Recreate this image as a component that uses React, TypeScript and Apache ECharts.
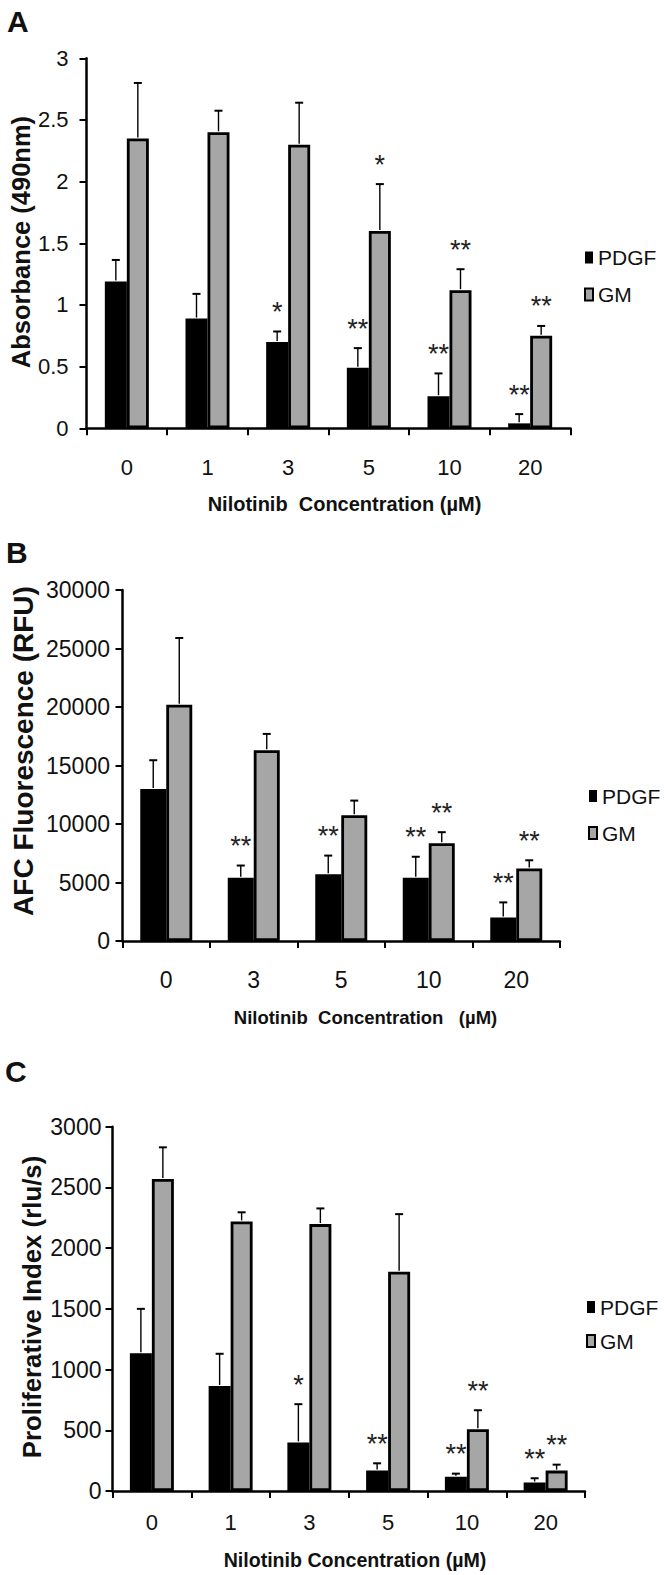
import React, { useEffect, useRef } from "react";
import * as echarts from "echarts";

// ---------- Data ----------
const catsA = ["0", "1", "3", "5", "10", "20"];
const pdgfA = [1.19, 0.89, 0.7, 0.49, 0.26, 0.04];
const pdgfErrA = [1.365, 1.09, 0.785, 0.65, 0.445, 0.115];
const gmA = [2.35, 2.4, 2.3, 1.6, 1.12, 0.75];
const gmErrA = [2.8, 2.575, 2.64, 1.98, 1.29, 0.83];
const sigPdgfA = ["", "", "*", "**", "**", "**"];
const sigGmA = ["", "", "", "*", "**", "**"];

const catsB = ["0", "3", "5", "10", "20"];
const pdgfB = [13000, 5400, 5700, 5400, 2000];
const pdgfErrB = [15450, 6450, 7300, 7200, 3300];
const gmB = [20200, 16300, 10750, 8350, 6200];
const gmErrB = [25900, 17700, 12000, 9300, 6900];
const sigPdgfB = ["", "**", "**", "**", "**"];
const sigGmB = ["", "", "", "**", "**"];

const catsC = ["0", "1", "3", "5", "10", "20"];
const pdgfC = [1135, 865, 400, 168, 118, 70];
const pdgfErrC = [1500, 1130, 715, 228, 143, 105];
const gmC = [2570, 2220, 2198, 1805, 508, 168];
const gmErrC = [2830, 2295, 2327, 2280, 665, 217];
const sigPdgfC = ["", "", "*", "**", "**", "**"];
const sigGmC = ["", "", "", "", "**", "**"];

const seriesNames = ["PDGF", "GM"];
const yTitles = ["Absorbance (490nm)", "AFC Fluorescence (RFU)", "Proliferative Index (rlu/s)"];
const xTitles = [
  "Nilotinib\u00a0\u00a0Concentration (µM)",
  "Nilotinib\u00a0\u00a0Concentration\u00a0\u00a0\u00a0(µM)",
  "Nilotinib Concentration (µM)",
];
const panelLetters = ["A", "B", "C"];

// ---------- Layout / style ----------
const FONT = "'Liberation Sans', Arial, Helvetica, sans-serif";
const NARROW = "'Liberation Sans Narrow', 'Arial Narrow', 'Liberation Sans', Arial, sans-serif";
const GM_COLOR = "#a6a6a6";
const INK = "#111";

const panels = [
  {
    cats: catsA, pdgf: pdgfA, pdgfErr: pdgfErrA, gm: gmA, gmErr: gmErrA, sigP: sigPdgfA, sigG: sigGmA,
    max: 3, interval: 0.5,
    grid: { left: 86.5, top: 58.3, width: 484, height: 370 },
    barWidth: 22, yFont: 22, xFont: 22, yMargin: 18, xMargin: 28,
    legend: { left: 584, top: 246.5, gap: 15 },
    letter: { x: 7, y: 21.5 },
    yTitle: { x: 21, y: 242, size: 25.5 },
    xTitle: { x: 344.5, y: 504, size: 20 },
  },
  {
    cats: catsB, pdgf: pdgfB, pdgfErr: pdgfErrB, gm: gmB, gmErr: gmErrB, sigP: sigPdgfB, sigG: sigGmB,
    max: 30000, interval: 5000,
    grid: { left: 122.5, top: 590, width: 437.5, height: 351 },
    barWidth: 26, yFont: 23, xFont: 23, yMargin: 12.5, xMargin: 27,
    legend: { left: 588, top: 785, gap: 15 },
    letter: { x: 6, y: 552 },
    yTitle: { x: 23, y: 751, size: 28 },
    xTitle: { x: 365.5, y: 1017, size: 18.5 },
  },
  {
    cats: catsC, pdgf: pdgfC, pdgfErr: pdgfErrC, gm: gmC, gmErr: gmErrC, sigP: sigPdgfC, sigG: sigGmC,
    max: 3000, interval: 500,
    grid: { left: 112.5, top: 1126.7, width: 472.5, height: 364.3 },
    barWidth: 22, yFont: 23, xFont: 22, yMargin: 11, xMargin: 20,
    legend: { left: 586, top: 1296, gap: 12 },
    letter: { x: 5, y: 1071 },
    yTitle: { x: 32, y: 1307, size: 25.8 },
    xTitle: { x: 355, y: 1560, size: 19.6 },
  },
];

function buildOption() {
  const axisLine = { show: true, lineStyle: { color: "#000", width: 2.5 } };
  const axisTick = { show: true, length: 7, lineStyle: { color: "#000", width: 2 } };

  const series: any[] = [];
  panels.forEach((p, i) => {
    series.push({
      type: "bar", name: seriesNames[0], xAxisIndex: i, yAxisIndex: i, data: p.pdgf,
      barWidth: p.barWidth, barGap: "0%",
      itemStyle: { color: "#000", borderColor: "#000", borderWidth: 2.5 }, z: 2,
    });
    series.push({
      type: "bar", name: seriesNames[1], xAxisIndex: i, yAxisIndex: i, data: p.gm,
      barWidth: p.barWidth, barGap: "0%",
      itemStyle: { color: GM_COLOR, borderColor: "#000", borderWidth: 2.8 }, z: 2,
    });
    series.push({
      type: "custom", xAxisIndex: i, yAxisIndex: i, silent: true, z: 5,
      data: p.cats.map((_, j) => [j, 0]),
      renderItem: (_params: any, api: any) => {
        const j = api.value(0);
        const items = [
          { v: p.pdgf[j], e: p.pdgfErr[j], s: p.sigP[j], dx: -p.barWidth / 2 },
          { v: p.gm[j], e: p.gmErr[j], s: p.sigG[j], dx: p.barWidth / 2 },
        ];
        const children: any[] = [];
        items.forEach((g) => {
          const base = api.coord([j, g.v]);
          const top = api.coord([j, g.e]);
          const x = base[0] + g.dx;
          children.push({ type: "line", shape: { x1: x, y1: base[1] - 1, x2: x, y2: top[1] }, style: { stroke: "#000", lineWidth: 1.4 } });
          children.push({ type: "line", shape: { x1: x - 4, y1: top[1], x2: x + 4, y2: top[1] }, style: { stroke: "#000", lineWidth: 2 } });
          if (g.s) {
            children.push({
              type: "text", x, y: top[1] - 19.5,
              style: { text: g.s, fontSize: 27, fontFamily: FONT, fill: "#222", align: "center", verticalAlign: "middle" },
            });
          }
        });
        return { type: "group", children };
      },
    });
  });

  const graphic: any[] = [];
  panels.forEach((p, i) => {
    graphic.push({
      type: "text", x: p.letter.x, y: p.letter.y,
      style: { text: panelLetters[i], fontSize: 30, fontWeight: "bold", fontFamily: FONT, fill: INK, align: "left", verticalAlign: "middle" },
    });
    graphic.push({
      type: "text", x: p.yTitle.x, y: p.yTitle.y, rotation: Math.PI / 2,
      style: { text: yTitles[i], fontSize: p.yTitle.size, fontWeight: "bold", fontFamily: FONT, fill: INK, align: "center", verticalAlign: "middle" },
    });
    graphic.push({
      type: "text", x: p.xTitle.x, y: p.xTitle.y,
      style: { text: xTitles[i], fontSize: p.xTitle.size, fontWeight: "bold", fontFamily: FONT, fill: INK, align: "center", verticalAlign: "middle" },
    });
  });

  return {
    animation: false,
    backgroundColor: "#fff",
    grid: panels.map((p) => ({ ...p.grid, containLabel: false })),
    xAxis: panels.map((p, i) => ({
      type: "category", gridIndex: i, data: p.cats,
      axisLine, axisTick,
      axisLabel: { fontSize: p.xFont, color: INK, margin: p.xMargin, fontFamily: NARROW },
    })),
    yAxis: panels.map((p, i) => ({
      type: "value", gridIndex: i, min: 0, max: p.max, interval: p.interval,
      splitLine: { show: false }, axisLine, axisTick,
      axisLabel: { fontSize: p.yFont, color: INK, margin: p.yMargin, fontFamily: NARROW, formatter: (v: number) => String(v) },
    })),
    legend: panels.map((p) => ({
      orient: "vertical", left: p.legend.left, top: p.legend.top, itemGap: p.legend.gap,
      itemWidth: 8, itemHeight: 12, icon: "rect", selectedMode: false, padding: 0,
      textStyle: { fontSize: 21, color: INK, fontFamily: FONT, lineHeight: 22 },
      data: [
        { name: seriesNames[0], itemStyle: { color: "#000", borderWidth: 0 } },
        { name: seriesNames[1], itemStyle: { color: GM_COLOR, borderColor: "#000", borderWidth: 2 } },
      ],
    })),
    series,
    graphic,
  };
}

export default function App() {
  const ref = useRef<HTMLDivElement>(null);
  useEffect(() => {
    if (!ref.current) return;
    const chart = echarts.init(ref.current, undefined, { renderer: "svg" });
    chart.setOption(buildOption() as any);
    return () => chart.dispose();
  }, []);
  return <div ref={ref} style={{ position: "absolute", left: 0, top: 0, width: 664, height: 1575, background: "#fff" }} />;
}
